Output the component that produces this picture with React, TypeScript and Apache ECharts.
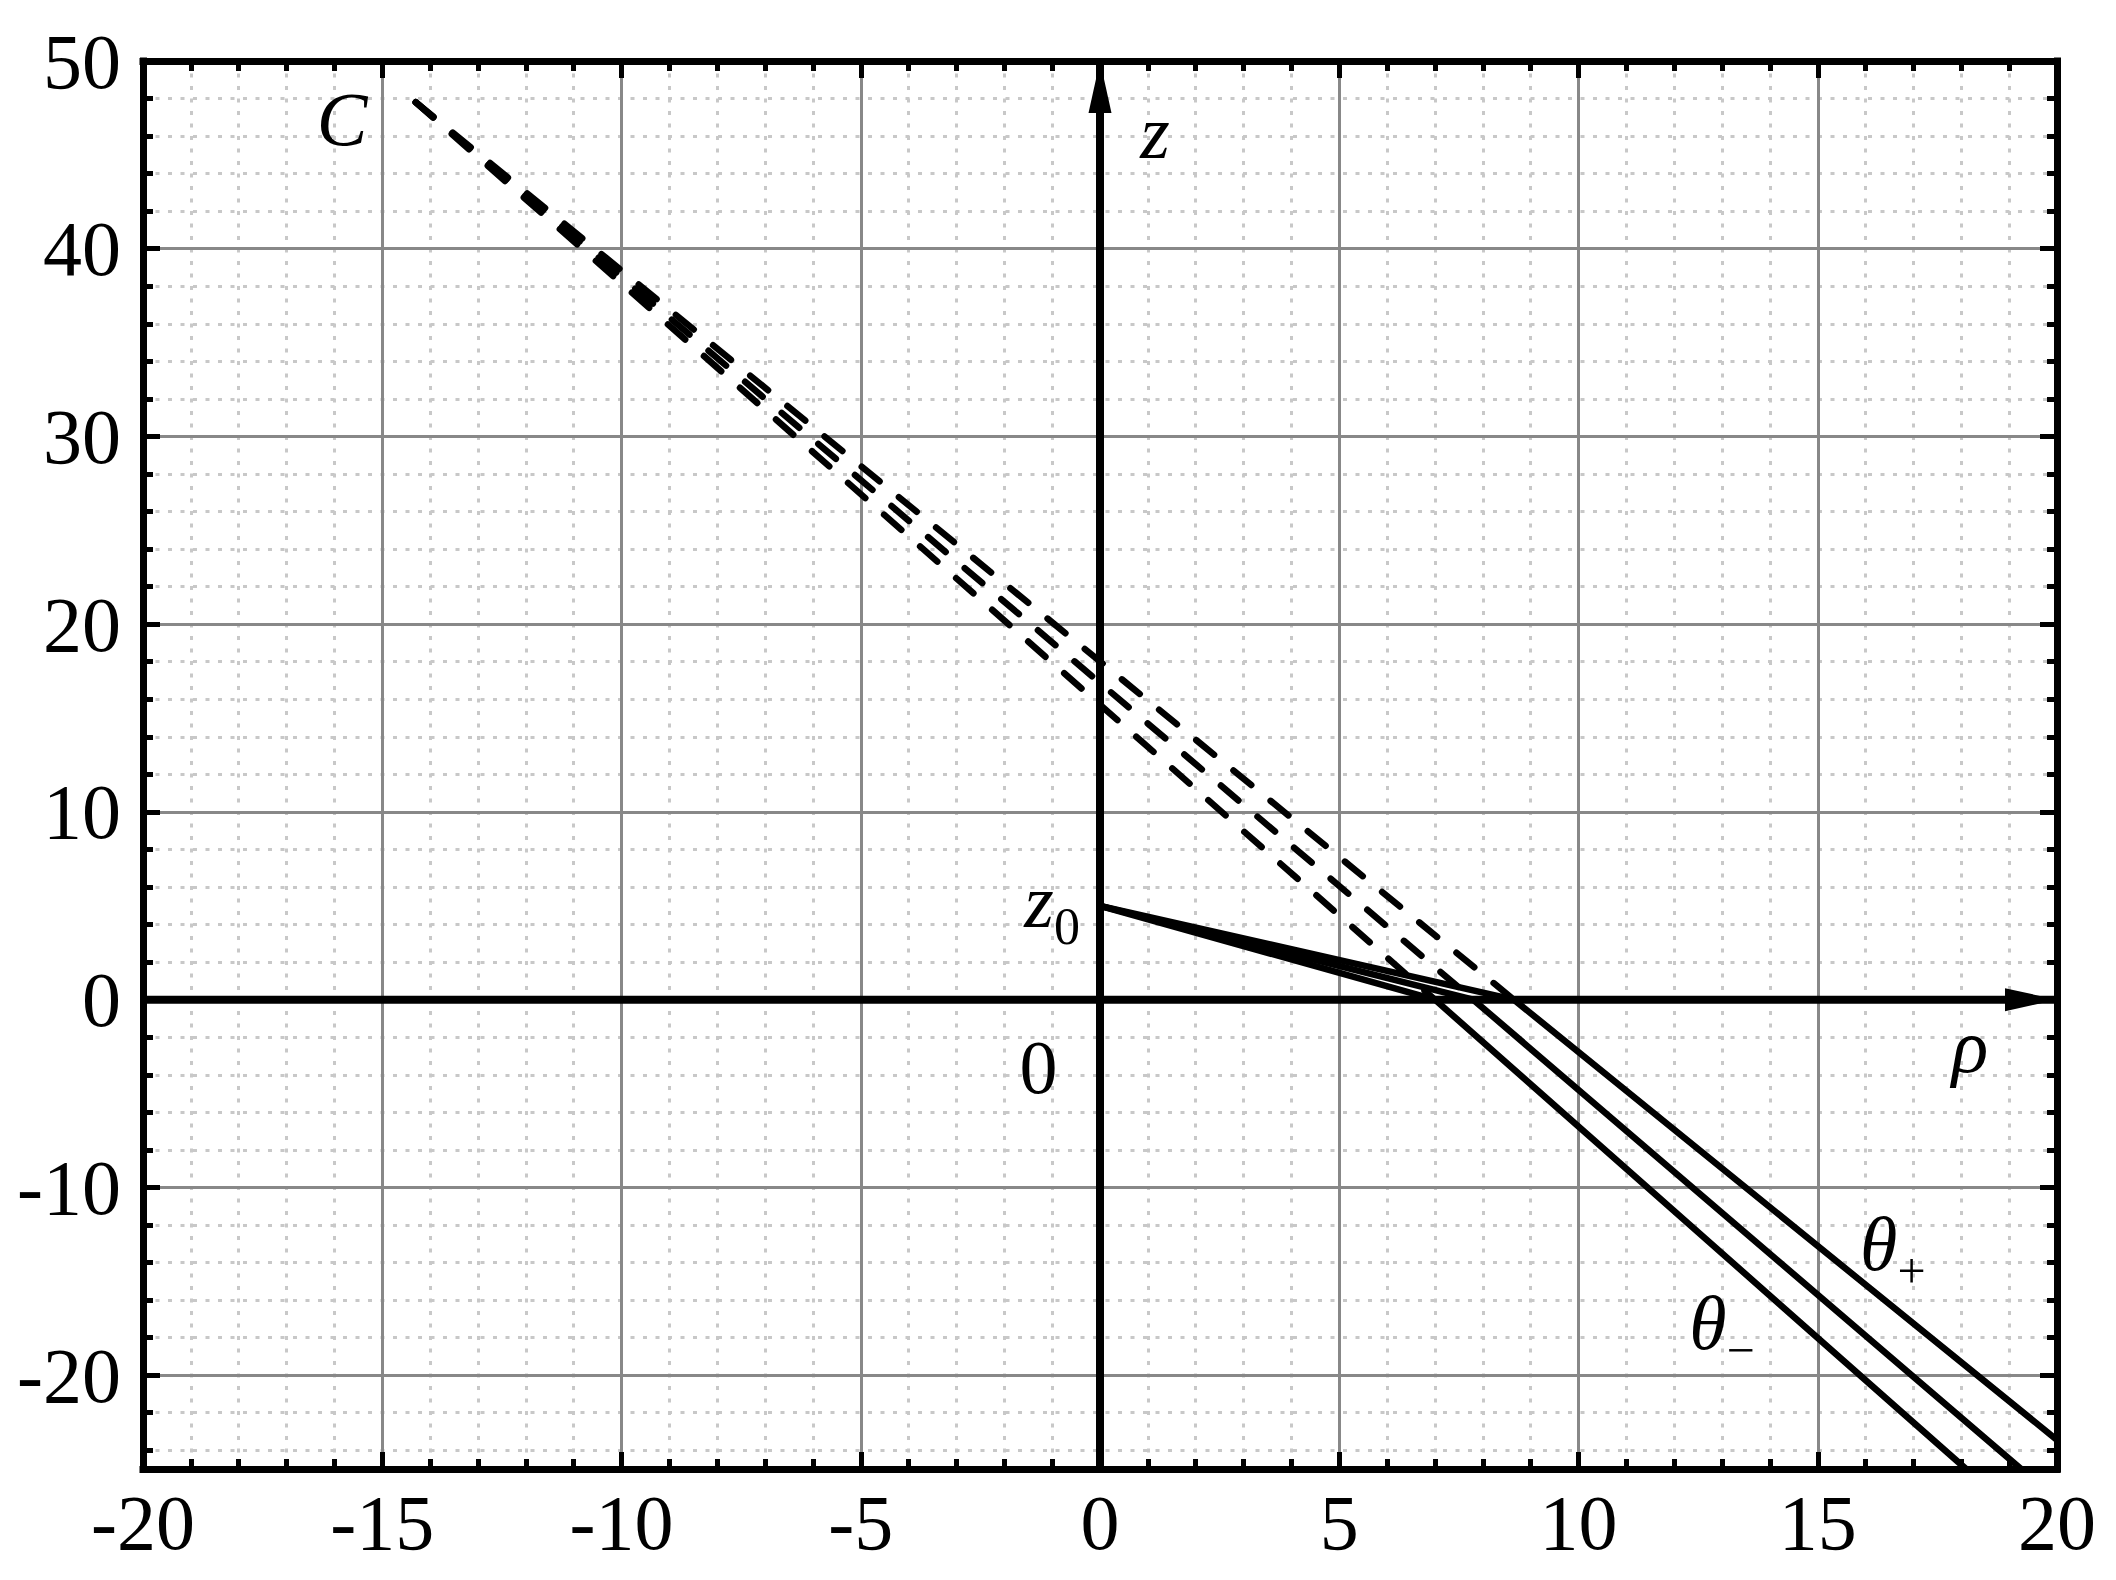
import React, { useEffect, useRef } from 'react';
import * as echarts from 'echarts';

const W = 2116;
const H = 1580;
const FONT = "'Liberation Serif', 'Times New Roman', Times, serif";

// ---- axis extents / ticks ----
const RHO_MIN = -20;
const RHO_MAX = 20;
const RHO_MAJOR = 5;
const RHO_MINOR = 1;
const Z_MIN = -25;
const Z_MAX = 50;
const Z_MAJOR = 10;
const Z_MINOR = 2;

// ---- geometry ----
const SOURCE_Z0: [number, number] = [0, 5];
const VIRTUAL_C: [number, number] = [-14.3, 47.8];
const RAY_NAMES = ['theta-minus', 'theta-mid', 'theta-plus'];
const HIT_RHO = [7.0, 7.8, 8.65];
const EXIT_RHO = [18.1, 19.25, 20];
const EXIT_Z = [-25, -25, -23.45];

const RHO_AXIS_LINE: [number, number][] = [[-20, 0], [20, 0]];
const Z_AXIS_LINE: [number, number][] = [[0, -25], [0, 50]];

// ---- annotations (data coordinates of the text block centres) ----
const LABEL_TEXT = ['{i|C}', '{i|z}', '{i|z}{s0|0}', '{n|0}', '{i|ρ}', '{t|θ}{sp|+}', '{t|θ}{sp|−}'];
const LABEL_RHO = [-15.84, 1.15, -1.0, -1.285, 18.18, 16.57, 13.0];
const LABEL_Z = [46.91, 46.22, 5.25, -3.59, -2.47, -13.0, -17.2];

function buildOption(): any {
  const frameLine = {
    show: true,
    onZero: false,
    lineStyle: { color: '#000', width: 7, cap: 'square' },
  };
  const noLine = { show: false, onZero: false };
  const majorTick = { show: true, inside: true, length: 17, lineStyle: { color: '#000', width: 5 } };
  const minorTickLine = { show: true, inside: true, length: 10, lineStyle: { color: '#000', width: 5 } };
  const majorGrid = {
    show: true,
    showMinLine: false,
    showMaxLine: false,
    lineStyle: { color: '#888888', width: 3 },
  };
  const minorGrid = {
    show: true,
    showMinLine: false,
    showMaxLine: false,
    lineStyle: { color: '#c8c8c8', width: 3, type: [4, 8.5] },
  };
  const labelStyle = { color: '#000', fontFamily: FONT, fontSize: 78 };

  const xMajor = { type: 'value', min: RHO_MIN, max: RHO_MAX, interval: RHO_MAJOR };
  const xMinor = { type: 'value', min: RHO_MIN, max: RHO_MAX, interval: RHO_MINOR };
  const yMajor = {
    type: 'value',
    min: Z_MIN,
    max: Z_MAX,
    splitNumber: 8,
    minInterval: Z_MAJOR,
    maxInterval: Z_MAJOR,
  };
  // minor z axis: same pixel mapping, expressed as -z on an inverted axis so that
  // ticks counted from its min (-Z_MAX, even) fall on even z values
  const yMinor = { type: 'value', min: -Z_MAX, max: -Z_MIN, inverse: true, interval: Z_MINOR };

  const xAxis = [
    {
      ...xMajor,
      position: 'bottom',
      z: 2,
      axisLine: frameLine,
      axisTick: majorTick,
      axisLabel: { ...labelStyle, margin: 14 },
      splitLine: majorGrid,
    },
    {
      ...xMajor,
      position: 'top',
      z: 2,
      axisLine: frameLine,
      axisTick: majorTick,
      axisLabel: { show: false },
      splitLine: { show: false },
    },
    {
      ...xMinor,
      position: 'bottom',
      z: 0,
      axisLine: noLine,
      axisTick: minorTickLine,
      axisLabel: { show: false },
      splitLine: minorGrid,
    },
    {
      ...xMinor,
      position: 'top',
      z: 0,
      axisLine: noLine,
      axisTick: minorTickLine,
      axisLabel: { show: false },
      splitLine: { show: false },
    },
  ];

  const yAxis = [
    {
      ...yMajor,
      position: 'left',
      z: 2,
      axisLine: frameLine,
      axisTick: majorTick,
      axisLabel: { ...labelStyle, margin: 22, showMinLabel: false },
      splitLine: majorGrid,
    },
    {
      ...yMajor,
      position: 'right',
      z: 2,
      axisLine: frameLine,
      axisTick: majorTick,
      axisLabel: { show: false },
      splitLine: { show: false },
    },
    {
      ...yMinor,
      position: 'left',
      z: 0,
      axisLine: noLine,
      axisTick: minorTickLine,
      axisLabel: { show: false },
      splitLine: minorGrid,
    },
    {
      ...yMinor,
      position: 'right',
      z: 0,
      axisLine: noLine,
      axisTick: minorTickLine,
      axisLabel: { show: false },
      splitLine: { show: false },
    },
  ];

  const arrowAxis = (name: string, pts: [number, number][], rotate: number, offset: number[]) => ({
    name,
    type: 'line',
    xAxisIndex: 0,
    yAxisIndex: 0,
    z: 4,
    silent: true,
    clip: false,
    showSymbol: true,
    symbol: 'triangle',
    symbolSize: [23, 52],
    symbolRotate: rotate,
    symbolOffset: offset,
    itemStyle: { color: '#000' },
    lineStyle: { color: '#000', width: 8 },
    data: [{ value: pts[0], symbol: 'none' }, { value: pts[1] }],
  });

  const rayLine = (name: string, data: [number, number][], dashed: boolean) => ({
    name,
    type: 'line',
    xAxisIndex: 0,
    yAxisIndex: 0,
    z: 5,
    silent: true,
    clip: true,
    showSymbol: false,
    symbol: 'none',
    lineStyle: dashed
      ? { color: '#000', width: 6.5, type: [23, 25], cap: 'round' }
      : { color: '#000', width: 6.5, cap: 'round', join: 'round' },
    data,
  });

  const series: any[] = [
    arrowAxis('rho-axis', RHO_AXIS_LINE, -90, [-26, 0]),
    arrowAxis('z-axis', Z_AXIS_LINE, 0, [0, 26]),
  ];
  RAY_NAMES.forEach((n, i) => {
    const hit: [number, number] = [HIT_RHO[i], 0];
    series.push(rayLine(n + '-incident', [SOURCE_Z0, hit], false));
    series.push(rayLine(n + '-transmitted', [hit, [EXIT_RHO[i], EXIT_Z[i]]], false));
    series.push(rayLine(n + '-virtual', [VIRTUAL_C, hit], true));
  });

  return {
    animation: false,
    backgroundColor: '#ffffff',
    grid: { left: 143, right: 59, top: 61, bottom: 111, containLabel: false, outerBoundsMode: 'none' },
    xAxis,
    yAxis,
    series,
  };
}

const RICH = {
  i: { fontFamily: FONT, fontStyle: 'italic', fontSize: 76, lineHeight: 76, verticalAlign: 'top', color: '#000' },
  n: { fontFamily: FONT, fontSize: 76, lineHeight: 76, verticalAlign: 'top', color: '#000' },
  s0: { fontFamily: FONT, fontSize: 52, lineHeight: 52, padding: [37, 0, 0, 0], verticalAlign: 'top', color: '#000' },
  t: { fontFamily: FONT, fontStyle: 'italic', fontSize: 76, lineHeight: 76, verticalAlign: 'top', color: '#000' },
  sp: { fontFamily: FONT, fontSize: 50, lineHeight: 50, padding: [40, 0, 0, 0], verticalAlign: 'top', color: '#000' },
};

export default function App() {
  const ref = useRef<HTMLDivElement>(null);
  useEffect(() => {
    if (!ref.current) return;
    const chart = echarts.init(ref.current, null, { renderer: 'svg', width: W, height: H });
    chart.setOption(buildOption());
    const graphic = LABEL_TEXT.map((t, i) => {
      const p = chart.convertToPixel({ gridIndex: 0 } as any, [LABEL_RHO[i], LABEL_Z[i]]) as number[];
      return {
        type: 'text',
        x: p[0],
        y: p[1],
        z: 100,
        silent: true,
        style: {
          text: t,
          rich: RICH,
          fill: '#000',
          fontSize: 76,
          fontFamily: FONT,
          align: 'center',
          verticalAlign: 'middle',
        },
      };
    });
    chart.setOption({ graphic });
    return () => chart.dispose();
  }, []);
  return (
    <div
      ref={ref}
      style={{ position: 'fixed', left: 0, top: 0, width: W, height: H, background: '#fff' }}
    />
  );
}
